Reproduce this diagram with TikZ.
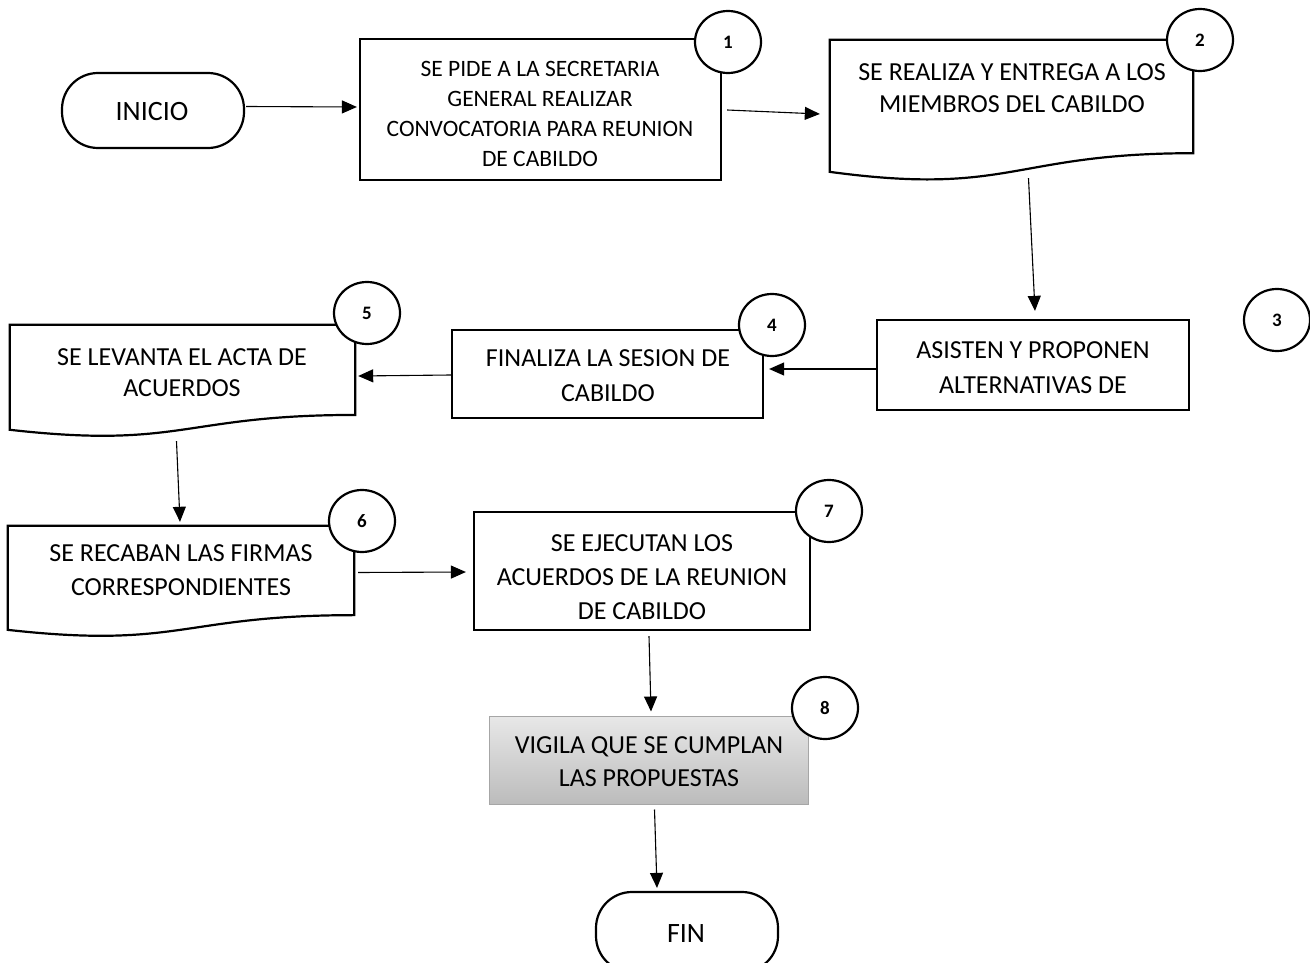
\documentclass[tikz,border=0pt]{standalone}
\usepackage{fontspec}
\setmainfont{Carlito}
\usetikzlibrary{arrows.meta,calc,shapes.geometric}
\definecolor{grayedge}{RGB}{166,166,166}
\definecolor{graytop}{RGB}{232,232,232}
\definecolor{graybot}{RGB}{188,188,188}
\newcommand\docpath[1]{\draw[boxline] (#1.north west) -- (#1.north east) -- ($(#1.north east)!0.802!(#1.south east)$) .. controls ($(#1.north)!0.802!(#1.south)$) and ($(#1.north)!1.1075!(#1.south)$) .. ($(#1.north west)!0.934!(#1.south west)$) -- cycle;}
\begin{document}
\begin{tikzpicture}[x=1pt,y=-1pt,
  boxline/.style={line width=2.2pt, draw=black, line join=miter},
  proc/.style={draw, line width=2.2pt, rectangle, inner sep=0pt},
  term/.style={draw, line width=2.2pt, rectangle, rounded corners=36pt, inner sep=0pt},
  docarea/.style={rectangle, inner sep=0pt},
  txt/.style={align=center, inner sep=0pt, font=\fontsize{26}{33.5}\selectfont},
  numc/.style={ellipse, draw, line width=2.2pt, fill=white, inner sep=0pt, minimum width=66pt, minimum height=62pt, font=\fontsize{19}{19}\selectfont\bfseries},
  arr/.style={line width=1.1pt, -{Triangle[length=15pt,width=13pt]}},
]
\useasboundingbox (0,0) rectangle (1310,963);
\fill[white] (0,0) rectangle (1310,963);

% shapes and texts
\node[term, minimum width=182pt, minimum height=75pt] (inicio) at (153,110.5) {};
\node[txt, font=\fontsize{28}{34}\selectfont] (inicioT) at (152,112) {INICIO};

\node[proc, minimum width=361pt, minimum height=141pt] (b1) at (540.5,109.5) {};
\node[txt, font=\fontsize{23.5}{30}\selectfont] (b1t) at (540,114) {SE PIDE A LA SECRETARIA\\GENERAL REALIZAR\\CONVOCATORIA PARA REUNION\\DE CABILDO};

\node[docarea, minimum width=363pt, minimum height=141pt] (b2) at (1011.5,110.5) {};
\docpath{b2}
\node[txt, font=\fontsize{26}{32.5}\selectfont] (b2t) at (1012,88) {SE REALIZA Y ENTREGA A LOS\\MIEMBROS DEL CABILDO};

\node[proc, minimum width=312pt, minimum height=90pt] (b3) at (1033,365) {};
\node[txt, font=\fontsize{26}{34.5}\selectfont] (b3t) at (1033,367.5) {ASISTEN Y PROPONEN\\ALTERNATIVAS DE};

\node[proc, minimum width=311pt, minimum height=88pt] (b4) at (607.5,374) {};
\node[txt, font=\fontsize{26}{34.5}\selectfont] (b4t) at (608,375.5) {FINALIZA LA SESION DE\\CABILDO};

\node[docarea, minimum width=345pt, minimum height=112pt] (b5) at (182.5,381) {};
\docpath{b5}
\node[txt, font=\fontsize{26}{31.5}\selectfont] (b5t) at (182,372.5) {SE LEVANTA EL ACTA DE\\ACUERDOS};

\node[docarea, minimum width=346pt, minimum height=111pt] (b6) at (181,581.5) {};
\docpath{b6}
\node[txt, font=\fontsize{26}{34}\selectfont] (b6t) at (181,570) {SE RECABAN LAS FIRMAS\\CORRESPONDIENTES};

\node[proc, minimum width=336pt, minimum height=118pt] (b7) at (642,571) {};
\node[txt, font=\fontsize{26}{34}\selectfont] (b7t) at (642,577) {SE EJECUTAN LOS\\ACUERDOS DE LA REUNION\\DE CABILDO};

\node[rectangle, draw=grayedge, line width=1pt, top color=graytop, bottom color=graybot, inner sep=0pt, minimum width=319pt, minimum height=88pt] (b8) at (648.5,760) {};
\node[txt, font=\fontsize{26}{33}\selectfont] (b8t) at (649,762) {VIGILA QUE SE CUMPLAN\\LAS PROPUESTAS};

\node[term, minimum width=182pt, minimum height=80pt] (fin) at (687,932) {};
\node[txt, font=\fontsize{28}{34}\selectfont] (finT) at (686,934) {FIN};

% numbered circles
\node[numc] (c1) at (728,42) {1};
\node[numc] (c2) at (1200,40) {2};
\node[numc] (c3) at (1277,320) {3};
\node[numc] (c4) at (772,325) {4};
\node[numc] (c5) at (367,313) {5};
\node[numc] (c6) at (362,521) {6};
\node[numc] (c7) at (829,511) {7};
\node[numc] (c8) at (825,708) {8};

% connectors
\draw[arr] ($(inicio.east)+(1,-4)$) -- ($(b1.west)+(-2,-2.5)$);
\draw[arr] ($(b1.east)+(5,0.5)$) -- ($(b2.west)+(-10,3.5)$);
\draw[arr] ($(b2.south)+(17,-3)$) -- ($(b3.north)+(2,-8)$);
\draw[arr] ($(b3.west)+(0,4)$) -- ($(b4.east)+(5,-5)$);
\draw[arr] ($(b4.west)+(0,1)$) -- ($(b5.east)+(3,-5)$);
\draw[arr] ($(b5.south)+(-6,4)$) -- ($(b6.north)+(-1,-4)$);
\draw[arr] ($(b6.east)+(4,-9)$) -- ($(b7.west)+(-7,1)$);
\draw[arr] ($(b7.south)+(7,5)$) -- ($(b8.north)+(2.5,-4)$);
\draw[arr] ($(b8.south)+(6,5)$) -- ($(fin.north)+(-30,-3)$);
\end{tikzpicture}
\end{document}
